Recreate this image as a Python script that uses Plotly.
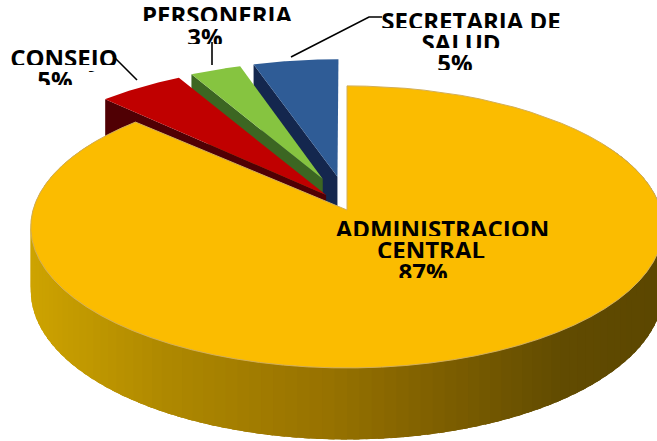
import numpy as np
import plotly.graph_objects as go

categories = ["ADMINISTRACION<br>CENTRAL", "CONSEJO", "PERSONERIA", "SECRETARIA DE<br>SALUD"]
percent = [87, 5, 3, 5]
top_colors = ["#FBBC00", "#C00000", "#86C440", "#2F5C96"]
face_colors = ["#6B5200", "#500004", "#3C6622", "#14274E"]
explode = [0.0, 1.0, 1.0, 1.0]
apex_factor = [1.0, 0.55, 1.0, 1.0]

# label layout, one (x centre, y centre) per text line
label_x = [[442.5, 431, 423], [64, 55], [217, 205], [471, 461, 455]]
label_y = [[232, 252.5, 275], [61, 82.5], [18, 39.5], [24, 45.5, 66]]
mask_cuts = [([236, 258, 278], "#FBBC00"), ([65, 85], "#FFFFFF"), ([21, 44], "#FFFFFF"), ([28, 48, 70], "#FFFFFF")]
mask_spans = [(330, 556), (4, 124), (136, 298), (376, 568)]
leaders = [[(113, 56), (137, 80)], [(212, 42), (212, 65)], [(291, 57), (369, 17), (382, 17)]]

AX, AY, RX, RY, K, D = 347.0, 210.0, 314.0, 139.0, 0.12, 63.0
EU, EV = 0.2, 0.25


def proj(u, v, z=0.0):
    w = 1 / (1 - K * v)
    return AX + RX * u * w, AY + (RY * v + D * z) * w


def disk(deg, r=1.0):
    a = np.radians(deg)
    return r * np.sin(a), -r * np.cos(a)


fig = go.Figure()


def poly(xs, ys, fill, line=None, width=0):
    fig.add_trace(go.Scatter(x=list(xs), y=list(ys), mode="lines", fill="toself", fillcolor=fill,
                             line=dict(color=line or fill, width=width), hoverinfo="skip", showlegend=False))


cum = np.cumsum([0] + percent) * 360.0 / sum(percent)
spans = [(cum[i], cum[i + 1]) for i in range(len(percent))]


def offset(i):
    a, b = spans[i]
    mu, mv = disk((a + b) / 2)
    return explode[i] * EU * mu, explode[i] * EV * mv


def apex(i, z=0.0):
    ou, ov = offset(i)
    return proj(ou * apex_factor[i], ov * apex_factor[i], z)


def top_outline(i):
    a, b = spans[i]
    ou, ov = offset(i)
    pts = [apex(i)]
    for t in np.linspace(a, b, 80):
        u, v = disk(t)
        pts.append(proj(u + ou, v + ov))
    pts.append(apex(i))
    return zip(*pts)


# exploded slices, furthest first
for i in [3, 2, 1]:
    a, b = spans[i]
    ou, ov = offset(i)
    u, v = disk(a)
    p = [proj(u + ou, v + ov), apex(i), apex(i, 1), proj(u + ou, v + ov, 1)]
    xs, ys = zip(*p)
    poly(xs, ys, face_colors[i])
    xs, ys = top_outline(i)
    poly(xs, ys, top_colors[i])

# gold wall: shaded in narrow overlapping bands
stop_x = [30, 100, 170, 330, 450, 560, 660]
stop_rgb = np.array([[0xCE, 0xA4, 0x00], [0xBE, 0x96, 0x00], [0xAE, 0x88, 0x00], [0x97, 0x72, 0x00],
                     [0x7C, 0x5E, 0x00], [0x62, 0x4C, 0x02], [0x5C, 0x47, 0x00]])
ts = np.linspace(60, 300, 121)
step = ts[1] - ts[0]
for t0 in ts[:-1]:
    t1 = t0 + step
    t2 = t0 + 2.5 * step
    u0, v0 = disk(t0)
    u1, v1 = disk(t1)
    u2, v2 = disk(t2)
    xs, ys = zip(*[proj(u0, v0), proj(u2, v2), proj(u2, v2, 1), proj(u0, v0, 1)])
    xm = (proj(u0, v0)[0] + proj(u1, v1)[0]) / 2
    rgb = [int(np.interp(xm, stop_x, stop_rgb[:, c])) for c in range(3)]
    poly(xs, ys, f"rgb({rgb[0]},{rgb[1]},{rgb[2]})")

xs, ys = top_outline(0)
poly(xs, ys, top_colors[0], line="#D2AE58", width=1)

# labels
for name, pct, lxs, lys in zip(categories, percent, label_x, label_y):
    lines = name.split("<br>") + [f"{pct}%"]
    fig.add_trace(go.Scatter(x=lxs, y=lys, mode="text", text=lines, textposition="middle center",
                             textfont=dict(family="Open Sans", size=24, color="#000000", weight="bold"),
                             hoverinfo="skip", showlegend=False))

shapes = []
for (cuts, col), (x0, x1) in zip(mask_cuts, mask_spans):
    for c in cuts:
        shapes.append(dict(type="rect", xref="x", yref="y", x0=x0, x1=x1, y0=c, y1=c + 6,
                           fillcolor=col, line=dict(width=0), layer="above"))
for seg in leaders:
    path = "M " + " L ".join(f"{x},{y}" for x, y in seg)
    shapes.append(dict(type="path", path=path, xref="x", yref="y", line=dict(color="#000000", width=1.6), layer="above"))

fig.update_layout(width=657, height=441, margin=dict(l=0, r=0, t=0, b=0), showlegend=False,
                  paper_bgcolor="#FFFFFF", plot_bgcolor="#FFFFFF", shapes=shapes,
                  xaxis=dict(range=[0, 657], visible=False, fixedrange=True),
                  yaxis=dict(range=[441, 0], visible=False, fixedrange=True))
fig.write_html("out.html", config=dict(displayModeBar=False),
               post_script="document.body.style.margin='0';document.body.style.overflow='hidden';")
